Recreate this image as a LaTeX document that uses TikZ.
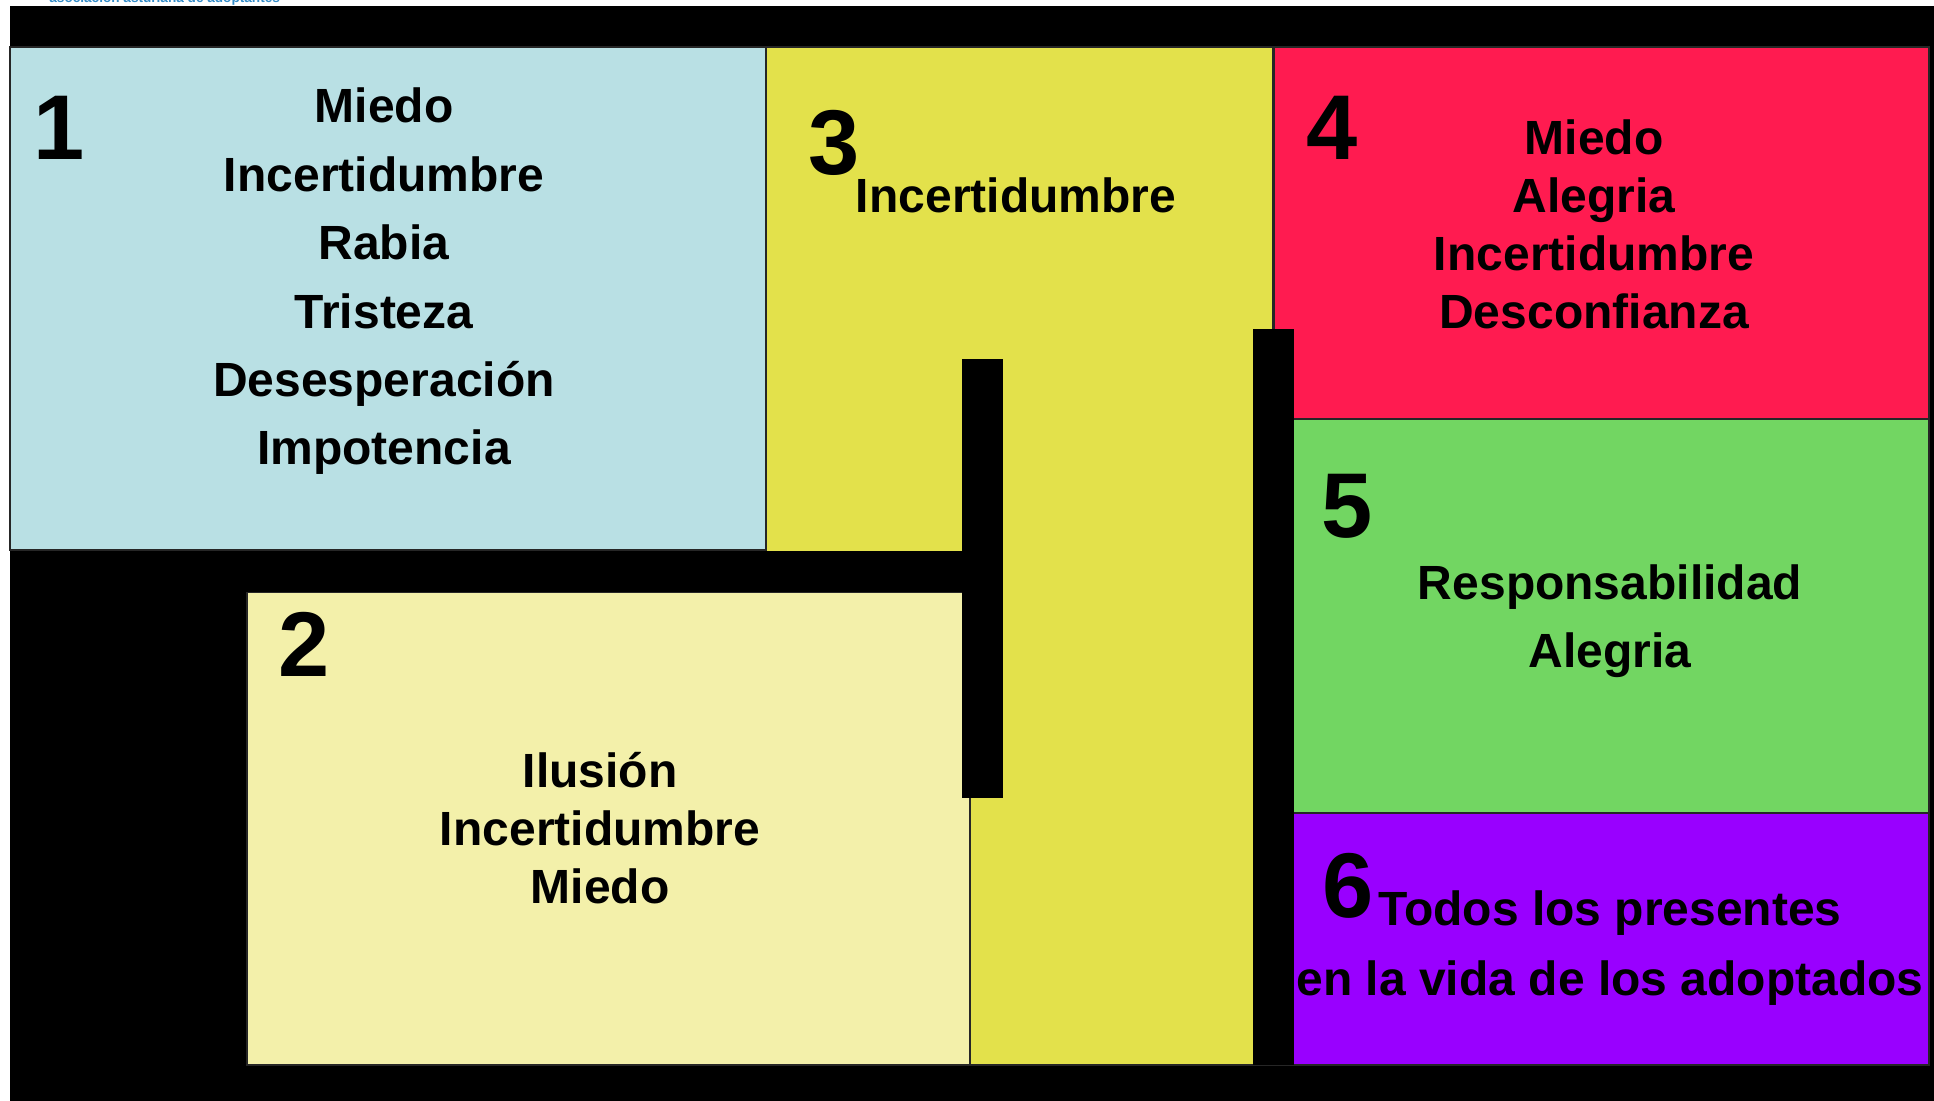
\documentclass[tikz,border=0pt]{standalone}
\usepackage{fontspec}
\setmainfont{Liberation Sans}
\usetikzlibrary{positioning}
\definecolor{cajaazul}{RGB}{185,224,228}
\definecolor{cajaamarilla}{RGB}{227,225,75}
\definecolor{cajacrema}{RGB}{243,240,170}
\definecolor{cajaroja}{RGB}{255,27,80}
\definecolor{cajaverde}{RGB}{114,214,98}
\definecolor{cajamorada}{RGB}{153,0,255}
\definecolor{azulcab}{RGB}{52,140,200}
\tikzset{txt/.style={font=\fontsize{24}{24}\selectfont\bfseries, anchor=base, inner sep=0pt}}
\tikzset{num/.style={font=\fontsize{46}{46}\selectfont\bfseries, anchor=base west, inner sep=0pt}}
\tikzset{caja/.style={draw=black!85, line width=0.75pt}}

\begin{document}
\begin{tikzpicture}[x=0.5pt,y=-0.5pt]
  \useasboundingbox (0,0) rectangle (1934,1101);
  % cabecera cortada
  \begin{scope}
    \clip (0,0) rectangle (1934,6);
    \node[font=\fontsize{6.8}{6.8}\selectfont\bfseries, text=azulcab, anchor=base west, inner sep=0pt] (cab) at (49,3) {asociación asturiana de adoptantes};
  \end{scope}
  % fondo
  \fill[black] (10,6) rectangle (1934,1101);
  % cajas
  \filldraw[caja,fill=cajaazul] (10,47) rectangle (766,550);
  \filldraw[caja,fill=cajaamarilla] (766,47) rectangle (1273,1065);
  \filldraw[caja,fill=cajacrema] (247,592) rectangle (970,1065);
  \filldraw[caja,fill=cajaroja] (1274,47) rectangle (1929,419);
  \filldraw[caja,fill=cajaverde] (1274,419) rectangle (1929,813);
  \filldraw[caja,fill=cajamorada] (1274,813) rectangle (1929,1065);
  % barras negras
  \fill[black] (10,551) rectangle (1003,592);
  \fill[black] (962,359) rectangle (1003,798);
  \fill[black] (1253,329) rectangle (1294,1065);
  % 1
  \node[num] (n1) at (33,160) {1};
  \foreach \w [count=\i] in {Miedo,Incertidumbre,Rabia,Tristeza,Desesperación,Impotencia}
    \node[txt] (uno\i) at (384,{123+68.4*(\i-1)}) {\w};
  % 2
  \node[num] (n2) at (278,676) {2};
  \foreach \w [count=\i] in {Ilusión,Incertidumbre,Miedo}
    \node[txt] (dos\i) at (600,{787+58*(\i-1)}) {\w};
  % 3
  \node[num] (n3) at (808,175) {3};
  \node[txt] (tres1) at (1016,213) {Incertidumbre};
  % 4
  \node[num] (n4) at (1306,160) {4};
  \foreach \w [count=\i] in {Miedo,Alegria,Incertidumbre,Desconfianza}
    \node[txt] (cuatro\i) at (1594,{155+58*(\i-1)}) {\w};
  % 5
  \node[num] (n5) at (1321,538) {5};
  \node[txt] (cinco1) at (1610,600) {Responsabilidad};
  \node[txt] (cinco2) at (1610,667) {Alegria};
  % 6
  \node[num] (n6) at (1322,917) {6};
  \node[txt, anchor=base west] (seis1) at (1378,925) {Todos los presentes};
  \node[txt] (seis2) at (1610,995) {en la vida de los adoptados};
\end{tikzpicture}
\end{document}
